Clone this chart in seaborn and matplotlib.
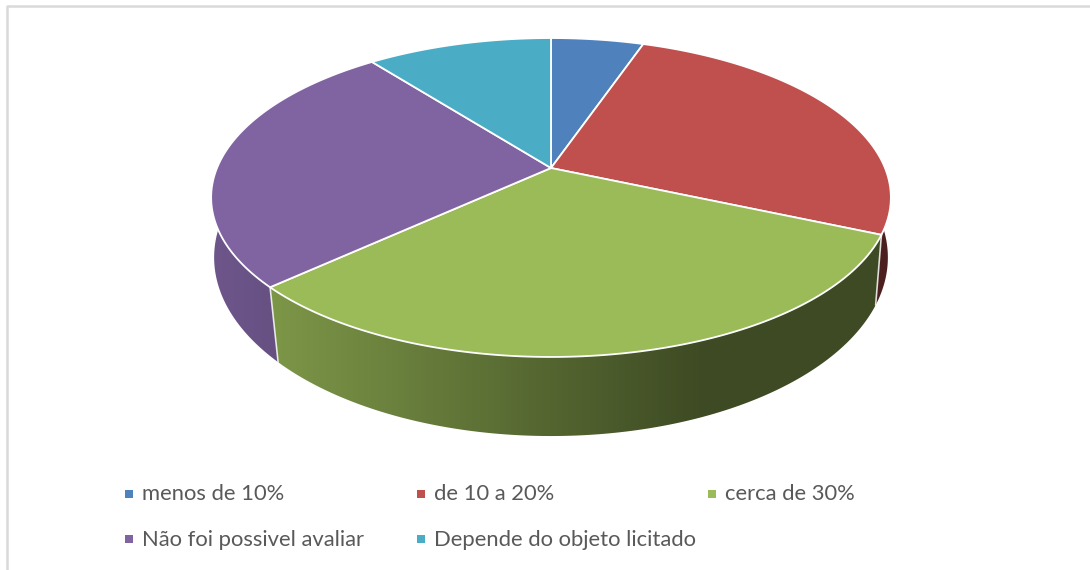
import numpy as np
import matplotlib
matplotlib.use("Agg")
import matplotlib.pyplot as plt
from matplotlib.patches import Polygon
import seaborn as sns

categories = ["menos de 10%", "de 10 a 20%", "cerca de 30%",
              "Não foi possivel avaliar", "Depende do objeto licitado"]
values = [1, 5, 6, 5, 2]
colors = ["#4f81bd", "#c0504d", "#9bbb59", "#8064a2", "#4bacc6"]

# perspective of the top and bottom faces, in pixels
CX = 551
TOP = dict(cy=168, sx=334, sy=154, k=0.185)
BOTTOM = dict(cy=230.5, sx=333, sy=174.5, k=0.151)

# legend grid
LEG_X = [129, 421, 712]
LEG_Y = [494, 539]


def project(theta, face):
    # theta is clockwise from the back of the pie
    px = np.sin(theta)
    py = np.cos(theta)
    d = 1 + face["k"] * py
    return CX + face["sx"] * px / d, face["cy"] - face["sy"] * py / d


def shade(x):
    # side wall goes darker from left to right
    return np.clip(0.8 - 0.4 * (x - 275) / 425, 0.4, 0.88)


sns.set_theme(style="white")
plt.rcParams["font.family"] = ["Lato", "DejaVu Sans"]
palette = sns.color_palette(colors)

fig, ax = plt.subplots(figsize=(10.9, 5.7), dpi=100)
ax.set_position([0, 0, 1, 1])
ax.axis("off")

# chart frame
ax.plot([7, 7, 1090], [570, 6, 6], color="#d9d9d9", lw=1.8, zorder=0)

edges = 2 * np.pi * np.cumsum([0] + values) / sum(values)

# side walls, back to front, gradient clipped to each wall
gx = np.arange(200, 900)
order = sorted(range(len(values)), key=lambda i: -np.cos((edges[i] + edges[i + 1]) / 2))
for i in order:
    t = np.linspace(edges[i], edges[i + 1], 300)
    xt, yt = project(t, TOP)
    xb, yb = project(t[::-1], BOTTOM)
    outline = Polygon(np.c_[np.r_[xt, xb], np.r_[yt, yb]], closed=True,
                      transform=ax.transData, fc="none", lw=0)
    ax.add_patch(outline)
    rgb = np.outer(shade(gx), palette[i])[None, :, :]
    im = ax.imshow(rgb, extent=[gx[0], gx[-1], 440, 30], aspect="auto", zorder=2 + order.index(i) * 0.01)
    im.set_clip_path(outline)

# white lines where the slices meet on the wall
for e in edges[:-1]:
    if np.cos(e) < 0:
        xa, ya = project(e, TOP)
        xb, yb = project(e, BOTTOM)
        ax.plot([xa, xb], [ya, yb], color="white", lw=1.2, alpha=0.8, zorder=3)

# top face
for i in range(len(values)):
    t = np.linspace(edges[i], edges[i + 1], 300)
    x, y = project(t, TOP)
    x = np.r_[CX, x]
    y = np.r_[TOP["cy"], y]
    ax.fill(x, y, facecolor=palette[i], edgecolor="white", lw=1.3,
            joinstyle="round", zorder=4)

# legend
for i, name in enumerate(categories):
    lx = LEG_X[i % 3]
    ly = LEG_Y[i // 3]
    ax.scatter([lx], [ly], marker="s", s=35, color=palette[i], lw=0, zorder=5)
    ax.text(lx + 13, ly + 0.5, name, color="#595959", fontsize=15.8, va="center", ha="left")

ax.set_xlim(0, 1090)
ax.set_ylim(570, 0)
fig.savefig("out.png", dpi=100)
